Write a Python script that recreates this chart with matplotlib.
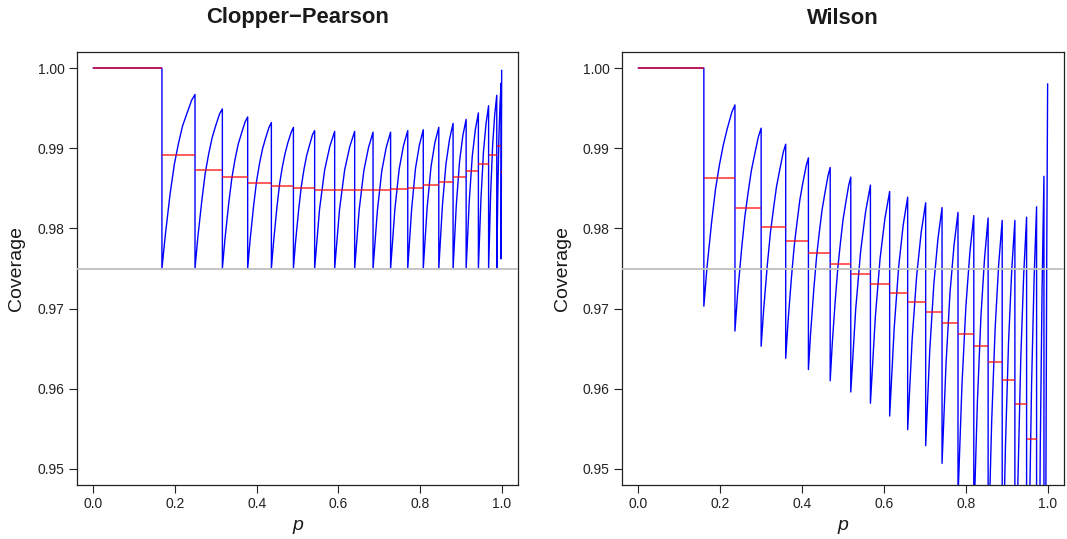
import numpy as np
import matplotlib.pyplot as plt

plt.rcParams['font.family'] = ['Liberation Sans', 'DejaVu Sans']

# Clopper-Pearson upper bound, n = 20: coverage traced piece by piece
cp_seg_p = [
    [0.0, 0.168],
    [0.168, 0.1761, 0.188, 0.1984, 0.2085, 0.2186, 0.229, 0.2409, 0.249],
    [0.249, 0.2557, 0.266, 0.2741, 0.2825, 0.2909, 0.299, 0.3093, 0.316],
    [0.316, 0.3222, 0.3315, 0.3393, 0.347, 0.3548, 0.3625, 0.3718, 0.378],
    [0.378, 0.3838, 0.3925, 0.3998, 0.407, 0.4143, 0.4215, 0.4302, 0.436],
    [0.436, 0.4414, 0.4495, 0.4563, 0.463, 0.4698, 0.4765, 0.4846, 0.490],
    [0.490, 0.4952, 0.503, 0.5095, 0.516, 0.5225, 0.529, 0.5368, 0.542],
    [0.542, 0.554, 0.5665, 0.579, 0.591],
    [0.591, 0.603, 0.6155, 0.628, 0.640],
    [0.640, 0.651, 0.6625, 0.674, 0.685],
    [0.685, 0.6958, 0.7065, 0.7173, 0.728],
    [0.728, 0.7385, 0.749, 0.7595, 0.770],
    [0.770, 0.7795, 0.789, 0.7985, 0.808],
    [0.808, 0.8175, 0.827, 0.8365, 0.846],
    [0.846, 0.8548, 0.8635, 0.8723, 0.881],
    [0.881, 0.889, 0.897, 0.905, 0.913],
    [0.913, 0.9205, 0.928, 0.9355, 0.943],
    [0.943, 0.9493, 0.9555, 0.9618, 0.968],
    [0.968, 0.973, 0.978, 0.983, 0.988],
    [0.988, 0.9907, 0.9934, 0.996, 0.9987],
    [0.9987, 1.0],
]
cp_seg_cov = [
    [1.0, 1.0],
    [0.975, 0.9791, 0.9843, 0.9880, 0.9906, 0.9928, 0.9943, 0.9960, 0.9967],
    [0.975, 0.9788, 0.9836, 0.9869, 0.9893, 0.9913, 0.9927, 0.9943, 0.9949],
    [0.975, 0.9786, 0.9831, 0.9863, 0.9886, 0.9905, 0.9918, 0.9933, 0.9939],
    [0.975, 0.9785, 0.9828, 0.9859, 0.9881, 0.9899, 0.9912, 0.9926, 0.9932],
    [0.975, 0.9783, 0.9826, 0.9856, 0.9877, 0.9894, 0.9907, 0.9920, 0.9926],
    [0.975, 0.9783, 0.9824, 0.9853, 0.9874, 0.9891, 0.9903, 0.9917, 0.9922],
    [0.975, 0.9824, 0.9873, 0.9902, 0.9921],
    [0.975, 0.9824, 0.9873, 0.9902, 0.9921],
    [0.975, 0.9823, 0.9872, 0.9901, 0.9920],
    [0.975, 0.9823, 0.9872, 0.9901, 0.9920],
    [0.975, 0.9824, 0.9874, 0.9903, 0.9922],
    [0.975, 0.9824, 0.9875, 0.9904, 0.9923],
    [0.975, 0.9826, 0.9877, 0.9907, 0.9926],
    [0.975, 0.9828, 0.9880, 0.9911, 0.9931],
    [0.975, 0.9830, 0.9884, 0.9916, 0.9936],
    [0.975, 0.9833, 0.9890, 0.9923, 0.9944],
    [0.975, 0.9837, 0.9896, 0.9931, 0.9953],
    [0.975, 0.9843, 0.9905, 0.9942, 0.9966],
    [0.975, 0.9849, 0.9916, 0.9955, 0.9981],
    [0.9762, 0.9997],
]
# mean coverage over each piece
cp_mean = [1.0, 0.9891, 0.9873, 0.9864, 0.9857, 0.9853, 0.9850, 0.9848,
           0.9848, 0.9848, 0.9848, 0.9849, 0.9851, 0.9854, 0.9858, 0.9864,
           0.9871, 0.9880, 0.9892, 0.9903, 0.9870]

# Wilson upper bound, n = 20
wil_seg_p = [
    [0.0, 0.160],
    [0.160, 0.1676, 0.179, 0.1885, 0.198, 0.2075, 0.217, 0.2284, 0.236],
    [0.236, 0.2424, 0.252, 0.260, 0.268, 0.276, 0.284, 0.2936, 0.300],
    [0.300, 0.306, 0.315, 0.3225, 0.330, 0.3375, 0.345, 0.354, 0.360],
    [0.360, 0.3656, 0.3739, 0.3808, 0.3878, 0.3947, 0.4016, 0.410, 0.4155],
    [0.4155, 0.4208, 0.4288, 0.4355, 0.4421, 0.4488, 0.4554, 0.4635, 0.4687],
    [0.4687, 0.4737, 0.4813, 0.4876, 0.4939, 0.5001, 0.5064, 0.514, 0.519],
    [0.519, 0.531, 0.543, 0.555, 0.567],
    [0.567, 0.5788, 0.5905, 0.6023, 0.614],
    [0.614, 0.625, 0.636, 0.647, 0.658],
    [0.658, 0.669, 0.680, 0.691, 0.702],
    [0.702, 0.712, 0.722, 0.732, 0.742],
    [0.742, 0.7518, 0.7615, 0.7713, 0.781],
    [0.781, 0.7907, 0.8003, 0.810, 0.8196],
    [0.8196, 0.8284, 0.8371, 0.8459, 0.8546],
    [0.8546, 0.8632, 0.8718, 0.8804, 0.889],
    [0.889, 0.8968, 0.9045, 0.9123, 0.920],
    [0.920, 0.9272, 0.9343, 0.9415, 0.9486],
    [0.9486, 0.9547, 0.9608, 0.9669, 0.973],
    [0.973, 0.9775, 0.982, 0.9865, 0.991],
    [0.991, 0.9933, 0.9955, 0.9978, 1.0],
]
wil_seg_cov = [
    [1.0, 1.0],
    [0.9703, 0.9751, 0.9808, 0.9849, 0.9879, 0.9904, 0.9924, 0.9945, 0.9954],
    [0.9672, 0.9718, 0.9773, 0.9814, 0.9844, 0.9872, 0.9892, 0.9915, 0.9925],
    [0.9653, 0.9698, 0.9754, 0.9794, 0.9824, 0.9852, 0.9872, 0.9895, 0.9905],
    [0.9638, 0.9683, 0.9738, 0.9778, 0.9808, 0.9836, 0.9856, 0.9878, 0.9888],
    [0.9624, 0.9669, 0.9725, 0.9765, 0.9795, 0.9823, 0.9843, 0.9866, 0.9876],
    [0.9610, 0.9656, 0.9712, 0.9752, 0.9783, 0.9811, 0.9831, 0.9854, 0.9864],
    [0.9596, 0.9699, 0.9771, 0.9820, 0.9854],
    [0.9582, 0.9688, 0.9762, 0.9812, 0.9846],
    [0.9566, 0.9675, 0.9752, 0.9804, 0.9839],
    [0.9549, 0.9662, 0.9741, 0.9795, 0.9832],
    [0.9529, 0.9648, 0.9731, 0.9787, 0.9826],
    [0.9507, 0.9632, 0.9720, 0.9779, 0.9820],
    [0.9464, 0.9605, 0.9703, 0.9770, 0.9816],
    [0.9432, 0.9584, 0.9691, 0.9763, 0.9813],
    [0.9390, 0.9558, 0.9676, 0.9755, 0.9810],
    [0.9336, 0.9526, 0.9658, 0.9748, 0.9810],
    [0.9259, 0.9481, 0.9636, 0.9742, 0.9814],
    [0.9136, 0.9412, 0.9606, 0.9737, 0.9827],
    [0.880, 0.9226, 0.9524, 0.9727, 0.9865],
    [0.830, 0.8972, 0.9442, 0.9762, 0.9980],
]
wil_mean = [1.0, 0.9863, 0.9826, 0.9802, 0.9784, 0.9769, 0.9755, 0.9743,
            0.9731, 0.9719, 0.9708, 0.9696, 0.9682, 0.9668, 0.9653, 0.9634,
            0.9611, 0.9581, 0.9537, 0.944, 0.920]

nominal = 0.975
titles = ['Clopper\u2212Pearson', 'Wilson']
xticks = [0.0, 0.2, 0.4, 0.6, 0.8, 1.0]
yticks = [0.95, 0.96, 0.97, 0.98, 0.99, 1.00]

W, H = 1067, 539
fig = plt.figure(figsize=(W / 100, H / 100), dpi=100)

# axes boxes in pixels: left, right
boxes = [(77, 518), (622, 1064)]
top, bottom = 52, 485

panels = [(cp_seg_p, cp_seg_cov, cp_mean), (wil_seg_p, wil_seg_cov, wil_mean)]

for (x0, x1), title, (seg_p, seg_cov, mean) in zip(boxes, titles, panels):
    ax = fig.add_axes([x0 / W, 1 - bottom / H, (x1 - x0) / W, (bottom - top) / H])

    p = np.concatenate(seg_p)
    cov = np.concatenate(seg_cov)
    ax.plot(p, cov, color='#0000ff', lw=1.0, zorder=2)

    ax.axhline(nominal, color='#bebebe', lw=1.3, zorder=3)

    for sp, m in zip(seg_p, mean):
        ax.plot([sp[0], sp[-1]], [m, m], color='#ff0000', lw=1.2,
                alpha=0.75, zorder=4, solid_capstyle='butt')

    ax.set_xlim(-0.04, 1.04)
    ax.set_ylim(0.948, 1.002)
    ax.set_xticks(xticks)
    ax.set_xticklabels(['{:.1f}'.format(t) for t in xticks])
    ax.set_yticks(yticks)
    ax.set_yticklabels(['{:.2f}'.format(t) for t in yticks])
    ax.tick_params(direction='out', length=6, width=0.8, labelsize=10,
                   pad=3, colors='#222222')
    for s in ax.spines.values():
        s.set_linewidth(0.9)
        s.set_color('#222222')

    cx = (x0 + x1) / 2 / W
    fig.text(cx, 1 - 18 / H, title, ha='center', va='center',
             fontsize=15.8, fontweight='bold', color='#1a1a1a')
    fig.text(cx, 1 - 525 / H, 'p', ha='center', va='center',
             fontsize=14, style='italic', color='#1a1a1a')
    fig.text((x0 - 60) / W, 1 - (top + bottom) / 2 / H, 'Coverage',
             ha='center', va='center', rotation=90, fontsize=14,
             color='#1a1a1a')

fig.savefig('out.png', dpi=100)
